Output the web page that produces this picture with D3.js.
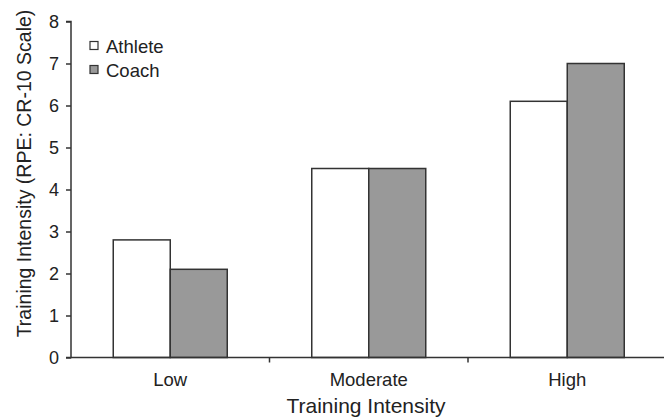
<!DOCTYPE html>
<html><head><meta charset="utf-8">
<script src="https://cdn.jsdelivr.net/npm/d3@7"></script>
<style>body{margin:0;background:#fff}svg{display:block;font-family:"Liberation Sans",Arial,sans-serif}</style>
</head><body><svg id="c" width="664" height="419"></svg>
<script>
const categories = ["Low", "Moderate", "High"];
const seriesNames = ["Athlete", "Coach"];
const athlete = [2.8, 4.5, 6.1];
const coach = [2.1, 4.5, 7.0];
const yTicks = [0,1,2,3,4,5,6,7,8];
const colors = {Athlete: "#ffffff", Coach: "#999999"};

const svg = d3.select("#c");
const x0 = 71, x1 = 666.5, yTop = 21.5, yBot = 357.5;
const x = d3.scaleBand().domain(categories).range([x0, x1]).paddingInner(0).paddingOuter(0);
const y = d3.scaleLinear().domain([0, 8]).range([yBot, yTop]);
const barW = 57;
const xs = d3.scaleBand().domain(seriesNames).range([0, barW*2]);

const data = categories.map((c,i)=>({cat:c, vals:[{s:"Athlete",v:athlete[i]},{s:"Coach",v:coach[i]}]}));

const g = svg.append("g");
data.forEach(d=>{
  const cx = x(d.cat) + x.bandwidth()/2 - barW;
  d.vals.forEach(b=>{
    g.append("rect").attr("x", cx + xs(b.s)).attr("y", y(b.v))
      .attr("width", xs.bandwidth()).attr("height", y(0)-y(b.v))
      .attr("fill", colors[b.s]).attr("stroke", "#333").attr("stroke-width", 1.5);
  });
});

// y axis
const ya = svg.append("g").attr("transform", `translate(${x0},0)`)
  .call(d3.axisLeft(y).tickValues(yTicks).tickFormat(d3.format("d")).tickSize(5).tickPadding(7));
ya.select(".domain").attr("stroke", "#333").attr("stroke-width", 1.5).attr("d", `M-5,${yTop}H0V${yBot}H-5`);
ya.selectAll(".tick line").attr("stroke", "#333").attr("stroke-width", 1.5);
ya.selectAll("text").attr("font-size", 18).attr("fill", "#222").attr("font-family", "Liberation Sans, Arial, sans-serif");

// x axis
const xa = svg.append("g").attr("transform", `translate(0,${yBot})`);
xa.append("line").attr("x1", x0).attr("x2", x1).attr("y1", 0).attr("y2", 0).attr("stroke", "#333").attr("stroke-width", 1.5);
categories.slice(1).forEach(c=>{
  xa.append("line").attr("x1", x(c)).attr("x2", x(c)).attr("y1", 0).attr("y2", 5).attr("stroke", "#333").attr("stroke-width", 1.5);
});
categories.forEach(c=>{
  xa.append("text").attr("x", x(c)+x.bandwidth()/2).attr("y", 28.5).attr("text-anchor","middle")
    .attr("font-size", 18.5).attr("fill", "#222").text(c);
});

svg.append("text").attr("x", 366).attr("y", 413).attr("text-anchor","middle")
  .attr("font-size", 21).attr("fill", "#222").text("Training Intensity");
svg.append("text").attr("transform", `translate(31,173.5) rotate(-90)`).attr("text-anchor","middle")
  .attr("font-size", 19.5).attr("fill", "#222").text("Training Intensity (RPE: CR-10 Scale)");

// legend
seriesNames.forEach((s,i)=>{
  const ly = 41.5 + i*24;
  svg.append("rect").attr("x", 90).attr("y", ly).attr("width", 8).attr("height", 8)
    .attr("fill", colors[s]).attr("stroke", "#333").attr("stroke-width", 1.2);
  svg.append("text").attr("x", 106).attr("y", ly+11).attr("font-size", 18.5).attr("fill", "#222").text(s);
});
</script></body></html>
